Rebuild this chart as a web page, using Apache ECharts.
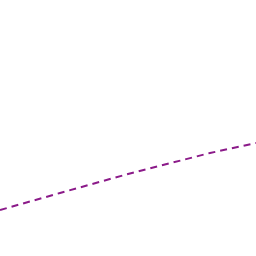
<!DOCTYPE html>
<html>
<head>
<meta charset="utf-8">
<script src="https://cdn.jsdelivr.net/npm/echarts@6/dist/echarts.min.js"></script>
<style>
html, body { margin: 0; padding: 0; background: #fff; }
#chart { width: 256px; height: 256px; }
</style>
</head>
<body>
<div id="chart"></div>
<script>
// values
let xValues = [0, 60, 128, 210, 256];
let yValues = [46, 63, 82, 103, 113];

let myChart = echarts.init(document.getElementById('chart'));
let option = {
    animation: false,
    backgroundColor: '#fff',
    grid: { left: 0, right: 0, top: 0, bottom: 0 },
    xAxis: { type: 'value', min: 0, max: 256, show: false },
    yAxis: { type: 'value', min: 0, max: 256, show: false },
    series: [{
        type: 'line',
        data: xValues.map((x, i) => [x, yValues[i]]),
        showSymbol: false,
        lineStyle: { color: '#8b1a89', width: 2, type: [7, 5] }
    }]
};
myChart.setOption(option);
</script>
</body>
</html>
